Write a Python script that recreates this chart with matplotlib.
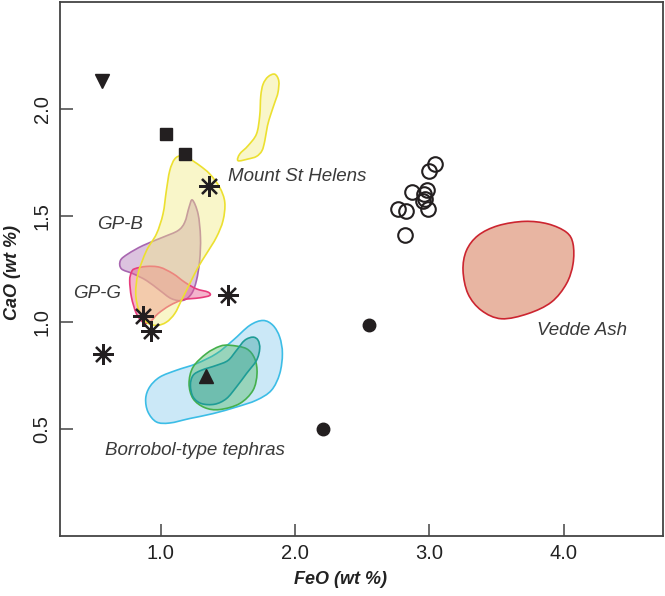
import numpy as np
import matplotlib
matplotlib.use("Agg")
import matplotlib.pyplot as plt
from matplotlib.path import Path
from matplotlib.patches import PathPatch

plt.rcParams['font.family'] = ['Liberation Sans', 'DejaVu Sans']

# ---- point data (FeO, CaO wt %) ----
tri_down_x, tri_down_y = [0.56], [2.13]
square_x, square_y = [1.04, 1.18], [1.88, 1.79]
star_x = [1.36, 1.50, 0.87, 0.93, 0.57]
star_y = [1.64, 1.13, 1.03, 0.96, 0.85]
tri_up_x, tri_up_y = [1.34], [0.75]
dot_x, dot_y = [2.55, 2.21], [0.99, 0.50]
open_x = [3.04, 3.00, 2.87, 2.98, 2.96, 2.97, 2.95, 2.99, 2.77, 2.83, 2.82]
open_y = [1.74, 1.71, 1.61, 1.62, 1.60, 1.58, 1.57, 1.53, 1.53, 1.52, 1.41]

# ---- field outlines (FeO, CaO) ----
msh_upper_x = [1.849, 1.879, 1.873, 1.849, 1.820, 1.795, 1.775, 1.754, 1.713, 1.650, 1.576, 1.588, 1.650, 1.713, 1.737, 1.745, 1.762, 1.799]
msh_upper_y = [2.162, 2.131, 2.076, 2.029, 1.975, 1.921, 1.850, 1.804, 1.777, 1.765, 1.757, 1.788, 1.827, 1.882, 1.967, 2.060, 2.115, 2.150]
msh_x = [1.154, 1.216, 1.291, 1.365, 1.439, 1.477, 1.464, 1.415, 1.340, 1.278, 1.216, 1.154, 1.104, 1.042, 0.968, 0.894, 0.838, 0.814, 0.831, 0.894, 0.968, 1.017, 1.042, 1.067, 1.104]
msh_y = [1.780, 1.765, 1.734, 1.695, 1.632, 1.562, 1.477, 1.399, 1.321, 1.258, 1.181, 1.103, 1.041, 1.001, 0.986, 1.001, 1.056, 1.134, 1.228, 1.336, 1.414, 1.508, 1.617, 1.710, 1.765]
gpb_x = [1.236, 1.278, 1.296, 1.290, 1.266, 1.229, 1.166, 1.080, 0.993, 0.894, 0.794, 0.707, 0.700, 0.757, 0.868, 1.017, 1.129, 1.179, 1.211]
gpb_y = [1.573, 1.508, 1.399, 1.290, 1.196, 1.134, 1.103, 1.111, 1.150, 1.196, 1.228, 1.251, 1.290, 1.321, 1.360, 1.399, 1.430, 1.469, 1.539]
gpg_x = [0.806, 0.894, 0.993, 1.092, 1.179, 1.266, 1.352, 1.365, 1.290, 1.166, 1.067, 0.980, 0.918, 0.868, 0.819, 0.782, 0.769, 0.782]
gpg_y = [1.251, 1.262, 1.258, 1.228, 1.188, 1.157, 1.142, 1.126, 1.115, 1.106, 1.079, 1.041, 1.001, 1.001, 1.041, 1.118, 1.196, 1.235]
borr_x = [1.762, 1.836, 1.886, 1.906, 1.886, 1.824, 1.713, 1.564, 1.389, 1.216, 1.067, 0.968, 0.905, 0.888, 0.918, 0.993, 1.117, 1.266, 1.415, 1.538, 1.663]
borr_y = [1.009, 0.986, 0.931, 0.854, 0.760, 0.682, 0.636, 0.604, 0.573, 0.550, 0.529, 0.534, 0.581, 0.643, 0.698, 0.744, 0.776, 0.807, 0.854, 0.916, 0.986]
teal_x = [1.687, 1.725, 1.737, 1.713, 1.638, 1.564, 1.489, 1.402, 1.303, 1.241, 1.221, 1.241, 1.303, 1.415, 1.501, 1.564, 1.625]
teal_y = [0.931, 0.916, 0.877, 0.822, 0.760, 0.698, 0.643, 0.617, 0.620, 0.651, 0.706, 0.752, 0.776, 0.799, 0.822, 0.869, 0.916]
green_x = [1.514, 1.638, 1.700, 1.717, 1.687, 1.588, 1.439, 1.328, 1.241, 1.211, 1.241, 1.340, 1.439]
green_y = [0.893, 0.877, 0.830, 0.760, 0.682, 0.620, 0.592, 0.601, 0.643, 0.714, 0.791, 0.854, 0.888]
vedde_x = [3.710, 3.884, 4.021, 4.070, 4.070, 4.021, 3.909, 3.735, 3.537, 3.388, 3.288, 3.251, 3.276, 3.363, 3.512]
vedde_y = [1.473, 1.461, 1.422, 1.368, 1.274, 1.181, 1.095, 1.041, 1.017, 1.056, 1.134, 1.243, 1.336, 1.407, 1.453]

labels = ['Mount St Helens', 'GP-B', 'GP-G', 'Borrobol-type tephras', 'Vedde Ash']
label_x = [1.50, 0.525, 0.345, 0.584, 3.80]
label_y = [1.682, 1.458, 1.136, 0.402, 0.963]


def smooth_patch(xs, ys, **kw):
    # closed catmull-rom outline turned into bezier path
    p = np.column_stack([xs, ys])
    n = len(p)
    verts = [p[0]]
    codes = [Path.MOVETO]
    for i in range(n):
        p0, p1, p2, p3 = p[i - 1], p[i], p[(i + 1) % n], p[(i + 2) % n]
        verts += [p1 + (p2 - p0) / 6, p2 - (p3 - p1) / 6, p2]
        codes += [Path.CURVE4] * 3
    verts.append(p[0])
    codes.append(Path.CLOSEPOLY)
    return PathPatch(Path(verts, codes), **kw)


fig = plt.figure(figsize=(6.65, 5.96), dpi=100)
ax = fig.add_axes([60 / 665, 60 / 596, 603 / 665, 534 / 596])

ax.add_patch(smooth_patch(vedde_x, vedde_y, facecolor='#e8b5a2', edgecolor='#cc2530', lw=1.2))
ax.add_patch(smooth_patch(borr_x, borr_y, facecolor=(0.49, 0.78, 0.92, 0.4), edgecolor='#3cbde6', lw=1.2))
ax.add_patch(smooth_patch(green_x, green_y, facecolor=(0.30, 0.72, 0.38, 0.4), edgecolor='#44b04c', lw=1.2))
ax.add_patch(smooth_patch(teal_x, teal_y, facecolor=(0.20, 0.62, 0.62, 0.4), edgecolor='#1e9c96', lw=1.2))
ax.add_patch(smooth_patch(gpb_x, gpb_y, facecolor=(0.66, 0.41, 0.69, 0.4), edgecolor='#a866b0', lw=1.2))
ax.add_patch(smooth_patch(gpg_x, gpg_y, facecolor=(0.91, 0.35, 0.56, 0.45), edgecolor='#e83c7c', lw=1.2))
ax.add_patch(smooth_patch(msh_x, msh_y, facecolor=(0.95, 0.92, 0.50, 0.42), edgecolor='#ece030', lw=1.2))
ax.add_patch(smooth_patch(msh_upper_x, msh_upper_y, facecolor=(0.95, 0.92, 0.50, 0.42), edgecolor='#ece030', lw=1.2))

k = '#231f20'
ax.plot(tri_down_x, tri_down_y, 'v', color=k, ms=10, ls='none')
ax.plot(square_x, square_y, 's', color=k, ms=8.5, ls='none')
ax.plot(star_x, star_y, marker=(8, 2, 0), color=k, ms=15, mew=1.6, ls='none')
ax.plot(tri_up_x, tri_up_y, '^', color=k, ms=10, ls='none')
ax.plot(dot_x, dot_y, 'o', color=k, ms=9, ls='none')
ax.plot(open_x, open_y, 'o', mfc='none', mec=k, ms=10.5, mew=1.5, ls='none')

for t, x, y in zip(labels, label_x, label_y):
    ax.text(x, y, t, style='italic', fontsize=13.5, color='#3a3a3a', va='center')

ax.set_xlim(0.25, 4.74)
ax.set_ylim(0, 2.5)
ax.set_xticks([1, 2, 3, 4])
ax.set_xticklabels(['1.0', '2.0', '3.0', '4.0'])
ax.set_yticks([0.5, 1.0, 1.5, 2.0])
ax.set_yticklabels(['0.5', '1.0', '1.5', '2.0'], rotation=90, va='center')
ax.tick_params(direction='in', length=9, width=1.1, color='#444444', labelsize=14.5, labelcolor='#222222', pad=6)
for s in ax.spines.values():
    s.set_color('#444444')
    s.set_linewidth(1.3)

fig.text(340 / 665, 1 - 580 / 596, 'FeO (wt %)', fontsize=13, fontweight='bold', style='italic', ha='center', va='center', color='#222222')
fig.text(13 / 665, 1 - 272 / 596, 'CaO (wt %)', fontsize=13, fontweight='bold', style='italic', ha='center', va='center', rotation=90, color='#222222')

fig.savefig('out.png', dpi=100)
